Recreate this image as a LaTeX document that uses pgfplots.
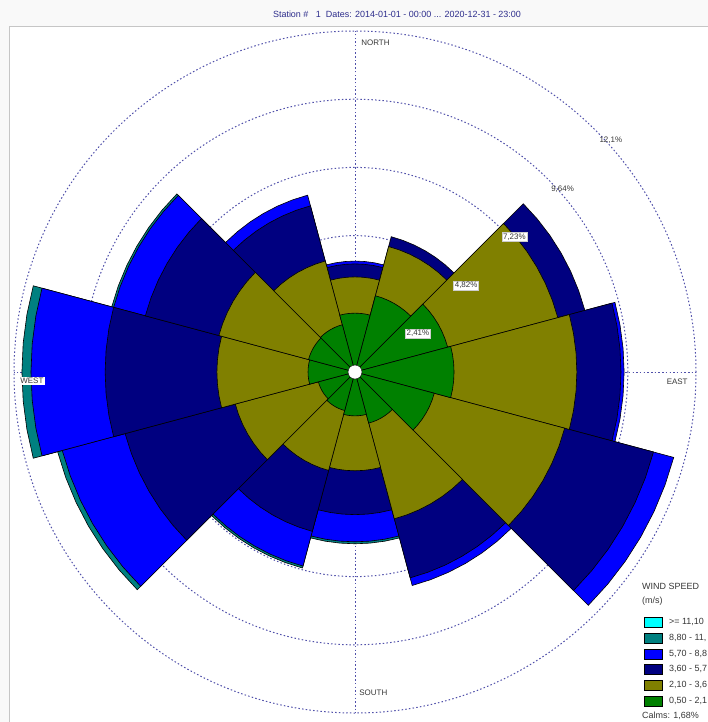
\documentclass[border=0pt]{standalone}
\usepackage{fontspec}
\setmainfont{Liberation Sans}
\usepackage{pgfplots}
\pgfplotsset{compat=1.18}
\usepgfplotslibrary{polar}
\definecolor{cC}{RGB}{0,255,255}
\definecolor{cT}{RGB}{0,128,128}
\definecolor{cB}{RGB}{0,0,255}
\definecolor{cN}{RGB}{0,0,128}
\definecolor{cO}{RGB}{128,128,0}
\definecolor{cG}{RGB}{0,128,0}
\definecolor{gridc}{RGB}{80,80,170}
\definecolor{titc}{RGB}{45,45,140}
\definecolor{labc}{RGB}{55,55,55}
\begin{document}
\begin{tikzpicture}
\useasboundingbox (0,0) rectangle (708bp,-722bp);
\fill[gray!5] (0,0) rectangle (708bp,-722bp);
\fill[white] (9bp,-26bp) rectangle (708bp,-722bp);
\draw[gray!45, line width=0.8bp] (9bp,-722bp) -- (9bp,-26bp) -- (708bp,-26bp);
\node[font=\fontsize{9}{10}\selectfont, text=titc] at (397bp,-14bp) {Station \#\ \ \ 1\ \ Dates: 2014-01-01 - 00:00 ... 2020-12-31 - 23:00};
\begin{polaraxis}[
  at={(355bp,-372bp)}, anchor=origin,
  scale only axis, width=682bp, height=682bp,
  xmin=0, xmax=360, ymin=0, ymax=12.05,
  xtick={0,90,180,270}, ytick={2.41,4.82,7.23,9.64},
  xticklabels={}, yticklabels={},
  major tick length=0pt,
  grid=major,
  major grid style={gridc, dash pattern=on 1.5bp off 2.2bp, line width=1bp},
  axis line style={gridc, dash pattern=on 1.5bp off 2.2bp, line width=1bp},
  clip=false,
  wt/.style={draw=black, line width=0.6bp, fill=cT},
  wb/.style={draw=black, line width=0.6bp, fill=cB},
  wn/.style={draw=black, line width=0.6bp, fill=cN},
  wo/.style={draw=black, line width=0.6bp, fill=cO},
  wg/.style={draw=black, line width=0.6bp, fill=cG},
]
% 8.80 - 11.10 m/s (cumulative %)
\addplot[wt] coordinates {(0,0)(-105,6.07)(-100,6.07)(-95,6.07)(-90,6.07)(-85,6.07)(-80,6.07)(-75,6.07)(0,0)};
\addplot[wt] coordinates {(0,0)(-135,7.17)(-130,7.17)(-125,7.17)(-120,7.17)(-115,7.17)(-110,7.17)(-105,7.17)(0,0)};
\addplot[wt] coordinates {(0,0)(-165,10.88)(-160,10.88)(-155,10.88)(-150,10.88)(-145,10.88)(-140,10.88)(-135,10.88)(0,0)};
\addplot[wt] coordinates {(0,0)(165,11.77)(170,11.77)(175,11.77)(180,11.77)(185,11.77)(190,11.77)(195,11.77)(0,0)};
\addplot[wt] coordinates {(0,0)(135,8.90)(140,8.90)(145,8.90)(150,8.90)(155,8.90)(160,8.90)(165,8.90)(0,0)};
% 5.70 - 8.80 m/s
\addplot[wb] coordinates {(0,0)(75,3.92)(80,3.92)(85,3.92)(90,3.92)(95,3.92)(100,3.92)(105,3.92)(0,0)};
\addplot[wb] coordinates {(0,0)(-15,9.51)(-10,9.51)(-5,9.51)(0,9.51)(5,9.51)(10,9.51)(15,9.51)(0,0)};
\addplot[wb] coordinates {(0,0)(-45,11.66)(-40,11.66)(-35,11.66)(-30,11.66)(-25,11.66)(-20,11.66)(-15,11.66)(0,0)};
\addplot[wb] coordinates {(0,0)(-75,7.81)(-70,7.81)(-65,7.81)(-60,7.81)(-55,7.81)(-50,7.81)(-45,7.81)(0,0)};
\addplot[wb] coordinates {(0,0)(-105,6.00)(-100,6.00)(-95,6.00)(-90,6.00)(-85,6.00)(-80,6.00)(-75,6.00)(0,0)};
\addplot[wb] coordinates {(0,0)(-135,7.10)(-130,7.10)(-125,7.10)(-120,7.10)(-115,7.10)(-110,7.10)(-105,7.10)(0,0)};
\addplot[wb] coordinates {(0,0)(-165,10.71)(-160,10.71)(-155,10.71)(-150,10.71)(-145,10.71)(-140,10.71)(-135,10.71)(0,0)};
\addplot[wb] coordinates {(0,0)(165,11.45)(170,11.45)(175,11.45)(180,11.45)(185,11.45)(190,11.45)(195,11.45)(0,0)};
\addplot[wb] coordinates {(0,0)(135,8.83)(140,8.83)(145,8.83)(150,8.83)(155,8.83)(160,8.83)(165,8.83)(0,0)};
\addplot[wb] coordinates {(0,0)(105,6.47)(110,6.47)(115,6.47)(120,6.47)(125,6.47)(130,6.47)(135,6.47)(0,0)};
% 3.60 - 5.70 m/s
\addplot[wn] coordinates {(0,0)(75,3.82)(80,3.82)(85,3.82)(90,3.82)(95,3.82)(100,3.82)(105,3.82)(0,0)};
\addplot[wn] coordinates {(0,0)(45,4.95)(50,4.95)(55,4.95)(60,4.95)(65,4.95)(70,4.95)(75,4.95)(0,0)};
\addplot[wn] coordinates {(0,0)(15,8.41)(20,8.41)(25,8.41)(30,8.41)(35,8.41)(40,8.41)(45,8.41)(0,0)};
\addplot[wn] coordinates {(0,0)(-15,9.40)(-10,9.40)(-5,9.40)(0,9.40)(5,9.40)(10,9.40)(15,9.40)(0,0)};
\addplot[wn] coordinates {(0,0)(-45,10.92)(-40,10.92)(-35,10.92)(-30,10.92)(-25,10.92)(-20,10.92)(-15,10.92)(0,0)};
\addplot[wn] coordinates {(0,0)(-75,7.53)(-70,7.53)(-65,7.53)(-60,7.53)(-55,7.53)(-50,7.53)(-45,7.53)(0,0)};
\addplot[wn] coordinates {(0,0)(-105,5.04)(-100,5.04)(-95,5.04)(-90,5.04)(-85,5.04)(-80,5.04)(-75,5.04)(0,0)};
\addplot[wn] coordinates {(0,0)(-135,5.83)(-130,5.83)(-125,5.83)(-120,5.83)(-115,5.83)(-110,5.83)(-105,5.83)(0,0)};
\addplot[wn] coordinates {(0,0)(-165,8.41)(-160,8.41)(-155,8.41)(-150,8.41)(-145,8.41)(-140,8.41)(-135,8.41)(0,0)};
\addplot[wn] coordinates {(0,0)(165,8.83)(170,8.83)(175,8.83)(180,8.83)(185,8.83)(190,8.83)(195,8.83)(0,0)};
\addplot[wn] coordinates {(0,0)(135,7.67)(140,7.67)(145,7.67)(150,7.67)(155,7.67)(160,7.67)(165,7.67)(0,0)};
\addplot[wn] coordinates {(0,0)(105,6.08)(110,6.08)(115,6.08)(120,6.08)(125,6.08)(130,6.08)(135,6.08)(0,0)};
% 2.10 - 3.60 m/s
\addplot[wo] coordinates {(0,0)(75,3.36)(80,3.36)(85,3.36)(90,3.36)(95,3.36)(100,3.36)(105,3.36)(0,0)};
\addplot[wo] coordinates {(0,0)(45,4.59)(50,4.59)(55,4.59)(60,4.59)(65,4.59)(70,4.59)(75,4.59)(0,0)};
\addplot[wo] coordinates {(0,0)(15,7.42)(20,7.42)(25,7.42)(30,7.42)(35,7.42)(40,7.42)(45,7.42)(0,0)};
\addplot[wo] coordinates {(0,0)(-15,7.84)(-10,7.84)(-5,7.84)(0,7.84)(5,7.84)(10,7.84)(15,7.84)(0,0)};
\addplot[wo] coordinates {(0,0)(-45,7.67)(-40,7.67)(-35,7.67)(-30,7.67)(-25,7.67)(-20,7.67)(-15,7.67)(0,0)};
\addplot[wo] coordinates {(0,0)(-75,5.37)(-70,5.37)(-65,5.37)(-60,5.37)(-55,5.37)(-50,5.37)(-45,5.37)(0,0)};
\addplot[wo] coordinates {(0,0)(-105,3.49)(-100,3.49)(-95,3.49)(-90,3.49)(-85,3.49)(-80,3.49)(-75,3.49)(0,0)};
\addplot[wo] coordinates {(0,0)(-135,3.60)(-130,3.60)(-125,3.60)(-120,3.60)(-115,3.60)(-110,3.60)(-105,3.60)(0,0)};
\addplot[wo] coordinates {(0,0)(-165,4.38)(-160,4.38)(-155,4.38)(-150,4.38)(-145,4.38)(-140,4.38)(-135,4.38)(0,0)};
\addplot[wo] coordinates {(0,0)(165,4.88)(170,4.88)(175,4.88)(180,4.88)(185,4.88)(190,4.88)(195,4.88)(0,0)};
\addplot[wo] coordinates {(0,0)(135,4.98)(140,4.98)(145,4.98)(150,4.98)(155,4.98)(160,4.98)(165,4.98)(0,0)};
\addplot[wo] coordinates {(0,0)(105,4.06)(110,4.06)(115,4.06)(120,4.06)(125,4.06)(130,4.06)(135,4.06)(0,0)};
% 0.50 - 2.10 m/s
\addplot[wg] coordinates {(0,0)(75,2.08)(80,2.08)(85,2.08)(90,2.08)(95,2.08)(100,2.08)(105,2.08)(0,0)};
\addplot[wg] coordinates {(0,0)(45,2.79)(50,2.79)(55,2.79)(60,2.79)(65,2.79)(70,2.79)(75,2.79)(0,0)};
\addplot[wg] coordinates {(0,0)(15,3.39)(20,3.39)(25,3.39)(30,3.39)(35,3.39)(40,3.39)(45,3.39)(0,0)};
\addplot[wg] coordinates {(0,0)(-15,3.50)(-10,3.50)(-5,3.50)(0,3.50)(5,3.50)(10,3.50)(15,3.50)(0,0)};
\addplot[wg] coordinates {(0,0)(-45,2.90)(-40,2.90)(-35,2.90)(-30,2.90)(-25,2.90)(-20,2.90)(-15,2.90)(0,0)};
\addplot[wg] coordinates {(0,0)(-75,1.87)(-70,1.87)(-65,1.87)(-60,1.87)(-55,1.87)(-50,1.87)(-45,1.87)(0,0)};
\addplot[wg] coordinates {(0,0)(-105,1.55)(-100,1.55)(-95,1.55)(-90,1.55)(-85,1.55)(-80,1.55)(-75,1.55)(0,0)};
\addplot[wg] coordinates {(0,0)(-135,1.41)(-130,1.41)(-125,1.41)(-120,1.41)(-115,1.41)(-110,1.41)(-105,1.41)(0,0)};
\addplot[wg] coordinates {(0,0)(-165,1.34)(-160,1.34)(-155,1.34)(-150,1.34)(-145,1.34)(-140,1.34)(-135,1.34)(0,0)};
\addplot[wg] coordinates {(0,0)(165,1.66)(170,1.66)(175,1.66)(180,1.66)(185,1.66)(190,1.66)(195,1.66)(0,0)};
\addplot[wg] coordinates {(0,0)(135,1.70)(140,1.70)(145,1.70)(150,1.70)(155,1.70)(160,1.70)(165,1.70)(0,0)};
\addplot[wg] coordinates {(0,0)(105,1.73)(110,1.73)(115,1.73)(120,1.73)(125,1.73)(130,1.73)(135,1.73)(0,0)};
% calms hole
\addplot[only marks, mark=*, mark size=7bp, mark options={fill=white, draw=black, line width=0.4bp}] coordinates {(0,0)};
% ring labels
\begin{scope}[every node/.style={anchor=north west, font=\fontsize{8}{9}\selectfont, text=labc, inner sep=1.2bp, xshift=2bp, yshift=-5bp}]
\node[fill=white, draw=gray!40] at (axis cs:45,2.41) {2,41\%};
\node[fill=white, draw=gray!40] at (axis cs:45,4.82) {4,82\%};
\node[fill=white, draw=gray!40] at (axis cs:45,7.23) {7,23\%};
\node at (axis cs:45,9.64) {9,64\%};
\node at (axis cs:45,12.05) {12,1\%};
\end{scope}
\begin{scope}[every node/.style={font=\fontsize{8}{9}\selectfont, text=labc, inner sep=1.2bp}]
\node[anchor=north west, xshift=5bp, yshift=-8bp] at (axis cs:90,12.05) {NORTH};
\node[anchor=north east, xshift=-7bp, yshift=-6bp] at (axis cs:0,12.05) {EAST};
\node[anchor=south west, xshift=3bp, yshift=16bp] at (axis cs:270,12.05) {SOUTH};
\node[anchor=north west, fill=white, xshift=5bp, yshift=-5bp] at (axis cs:180,12.05) {WEST};
\end{scope}
\end{polaraxis}
% legend
\begin{scope}[every node/.style={font=\fontsize{9}{10}\selectfont, text=labc, anchor=west, inner sep=0pt}]
\node at (642bp,-586bp) {WIND SPEED};
\node at (642bp,-601bp) {(m/s)};
\foreach \c/\t/\y in {cC/{>= 11,10}/622, cT/{8,80 - 11,}/638, cB/{5,70 - 8,8}/654, cN/{3,60 - 5,7}/669, cO/{2,10 - 3,6}/685, cG/{0,50 - 2,1}/701}{
  \filldraw[fill=\c, draw=black, line width=0.5bp] (644bp,-\y bp+5bp) rectangle (662bp,-\y bp-5bp);
  \node at (669bp,-\y bp) {\t};
}
\node at (642bp,-716bp) {Calms: 1,68\%};
\end{scope}
\end{tikzpicture}
\end{document}
